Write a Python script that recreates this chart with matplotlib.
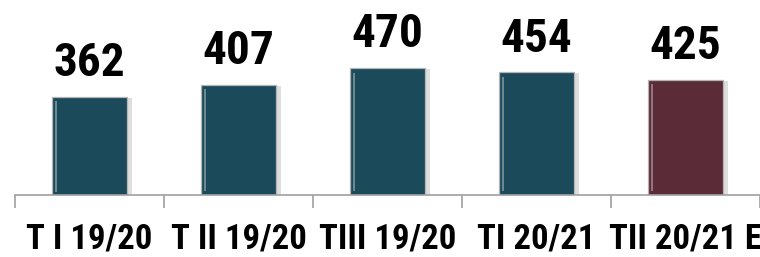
import matplotlib.pyplot as plt
import matplotlib.font_manager as fm

# Datos
trimestres = ['T I 19/20', 'T II 19/20', 'TIII 19/20', 'TI 20/21', 'TII 20/21 E']
valores = [362, 407, 470, 454, 425]
colores = ['#1b4b5a', '#1b4b5a', '#1b4b5a', '#1b4b5a', '#5b2c38']

# Fuente estrecha tipo Arial Narrow, si existe
nombres = {f.name for f in fm.fontManager.ttflist}
preferidas = ['Arial Narrow', 'Liberation Sans Narrow', 'Roboto Condensed', 'Archivo Narrow', 'Asap Condensed']
fuente = [f for f in preferidas if f in nombres][:1] + ['DejaVu Sans']
plt.rcParams['font.family'] = fuente

fig = plt.figure(figsize=(7.6, 2.57), dpi=100)
ax = fig.add_axes([15 / 760, 1 - 195 / 257, 1 - 15 / 760, 195 / 257])

x = list(range(len(valores)))
# sombra suave a la derecha
ax.bar([i + 0.035 for i in x], [v - 4 for v in valores], width=0.5, color='#000000', alpha=0.13, zorder=1)
barras = ax.bar(x, valores, width=0.5, color=colores, edgecolor='#b5b5b5', linewidth=0.9, zorder=2)

# brillo lateral tipo bisel
for b in barras:
    ax.bar(b.get_x() + 0.02, b.get_height() * 0.93, bottom=b.get_height() * 0.035,
           width=0.012, color='white', alpha=0.35, zorder=3, align='edge')

for i, v in enumerate(valores):
    ax.annotate(str(v), (i, v), xytext=(0, 15), textcoords='offset points',
                ha='center', va='baseline', fontsize=34, fontweight='bold')

ax.set_xlim(-0.5, 4.5)
ax.set_ylim(0, 722)

ax.set_xticks(x)
ax.set_xticklabels(trimestres, fontsize=25, fontweight='bold')
ax.tick_params(axis='x', which='major', length=0, pad=20)
ax.set_xticks([i - 0.5 for i in range(len(valores) + 1)], minor=True)
ax.tick_params(axis='x', which='minor', length=9, width=1.2, color='#a0a0a0')

ax.set_yticks([])
for lado in ['top', 'right', 'left']:
    ax.spines[lado].set_visible(False)
ax.spines['bottom'].set_color('#a0a0a0')
ax.spines['bottom'].set_linewidth(1.2)

fig.savefig('out.png', dpi=100)
